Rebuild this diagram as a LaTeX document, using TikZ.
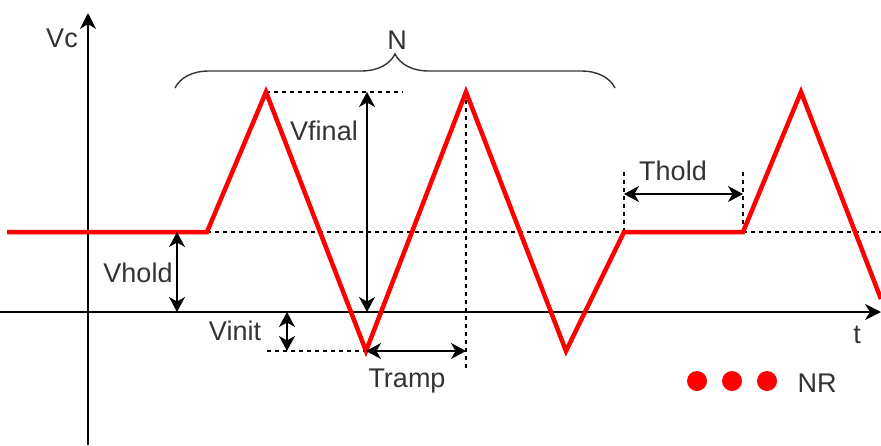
\documentclass[tikz,border=0pt]{standalone}
\usepackage{fontspec}
\setmainfont{Liberation Sans}
\usetikzlibrary{arrows.meta}
\usetikzlibrary{decorations.pathreplacing}
\usepackage{xcolor}

\tikzset{
 axis/.style={black, line width=1.6pt, ->, >={Stealth[length=16pt, width=16pt, inset=5pt]}},
 dim/.style={black, line width=1.4pt, <->, >={Stealth[length=15pt, width=16pt, inset=4.5pt]}},
 guide/.style={black, line width=1.1pt, dash pattern=on 4pt off 4pt},
 wave/.style={red, line width=4.5pt, line join=miter},
 lbl/.style={text=black!80, inner sep=0, font=\fontsize{27}{30}\selectfont}
}

\begin{document}
\begin{tikzpicture}[x=1pt, y=-1pt]
\useasboundingbox (0,0) rectangle (881,445);
% axes
\draw[axis] (88,445)--(88,13);
\draw[axis] (0,312)--(881,312);
\node[lbl] (vc) at (62,38) {Vc};
\node[lbl] (t) at (857,335) {t};
% waveform corners
\coordinate (hold0) at (7,232);
\coordinate (ramp0) at (207,232);
\coordinate (pk1) at (266,92);
\coordinate (vl1) at (366,351);
\coordinate (pk2) at (466,92);
\coordinate (vl2) at (566,351);
\coordinate (hold1) at (624,232);
\coordinate (hold2) at (743,232);
\coordinate (pk3) at (801,92);
\coordinate (wend) at (881,299);
% guide lines
\draw[guide] (ramp0)--(881,232);
\draw[guide] (pk1)--(403,92);
\draw[guide] (pk2)--(466,370);
\draw[guide] (267,351)--(vl1);
\draw[guide] (hold1)--(624,171);
\draw[guide] (hold2)--(743,171);
% waveform
\draw[wave] (hold0)--(ramp0)--(pk1)--(vl1)--(pk2)--(vl2)--(hold1)--(hold2)--(pk3)--(wend);
% dimensions
\draw[dim] (177,232)--(177,312);
\node[lbl] (vhold) at (138,273) {Vhold};
\draw[dim] (287,312)--(287,351);
\node[lbl] (vinit) at (235,331) {Vinit};
\draw[dim] (367,92)--(367,312);
\node[lbl] (vfinal) at (324,131) {Vfinal};
\draw[dim] (vl1)--(466,351);
\node[lbl] (tramp) at (407,381) {Tramp};
\draw[dim] (624,194)--(743,194);
\node[lbl] (thold) at (673,171) {Thold};
% brace over the ramps
\draw[black!80, line width=1.4pt, decorate, decoration={brace, amplitude=34pt}] (175,88)--(615,88);
\node[lbl] (n) at (397,40) {N};
% repetitions
\foreach \x in {697,732,767} {
 \fill[red] (\x,381) circle (10);
}
\node[lbl] (nr) at (817,383) {NR};
\end{tikzpicture}
\end{document}
